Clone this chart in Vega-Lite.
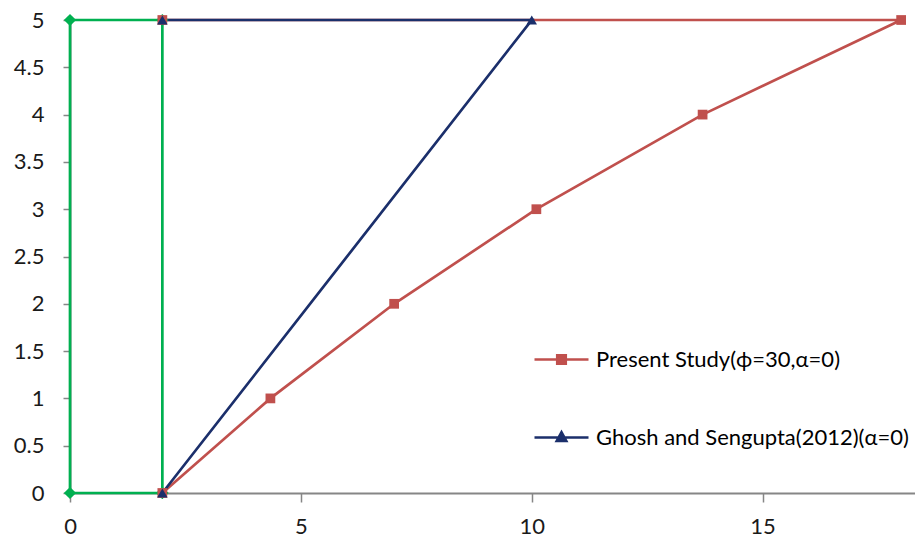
{
  "$schema": "https://vega.github.io/schema/vega-lite/v6.json",
  "width": 845,
  "height": 473,
  "autosize": {"type": "none"},
  "padding": {"left": 70, "top": 20, "right": 0, "bottom": 49},
  "background": "white",
  "config": {
    "view": {"stroke": null},
    "font": "Lato",
    "axis": {"grid": false, "labelFont": "Lato", "labelFontSize": 22, "labelColor": "#1a1a1a", "title": null}
  },
  "data": {
    "values": [
      {"series": "Boundary", "x": 2, "y": 0, "ord": 1},
      {"series": "Boundary", "x": 0, "y": 0, "ord": 2},
      {"series": "Boundary", "x": 0, "y": 5, "ord": 3},
      {"series": "Boundary", "x": 2, "y": 5, "ord": 4},
      {"series": "Boundary", "x": 2, "y": 0, "ord": 5},
      {"series": "Present Study(ϕ=30,α=0)", "x": 2, "y": 5, "ord": 1},
      {"series": "Present Study(ϕ=30,α=0)", "x": 18, "y": 5, "ord": 2},
      {"series": "Present Study(ϕ=30,α=0)", "x": 13.7, "y": 4, "ord": 3},
      {"series": "Present Study(ϕ=30,α=0)", "x": 10.1, "y": 3, "ord": 4},
      {"series": "Present Study(ϕ=30,α=0)", "x": 7.02, "y": 2, "ord": 5},
      {"series": "Present Study(ϕ=30,α=0)", "x": 4.34, "y": 1, "ord": 6},
      {"series": "Present Study(ϕ=30,α=0)", "x": 2, "y": 0, "ord": 7},
      {"series": "Ghosh and Sengupta(2012)(α=0)", "x": 2, "y": 5, "ord": 1},
      {"series": "Ghosh and Sengupta(2012)(α=0)", "x": 10, "y": 5, "ord": 2},
      {"series": "Ghosh and Sengupta(2012)(α=0)", "x": 2, "y": 0, "ord": 3}
    ]
  },
  "encoding": {
    "x": {
      "field": "x", "type": "quantitative",
      "scale": {"domain": [0, 18.3], "nice": false, "zero": false},
      "axis": {"values": [0, 5, 10, 15], "domainColor": "#868686", "domainWidth": 2, "tickColor": "#868686", "tickWidth": 1.5, "tickSize": 9, "labelPadding": 14, "labelFlush": false}
    },
    "y": {
      "field": "y", "type": "quantitative",
      "scale": {"domain": [0, 5], "nice": false},
      "axis": {"values": [0, 0.5, 1, 1.5, 2, 2.5, 3, 3.5, 4, 4.5, 5], "format": ".1~f", "domainColor": "#868686", "domainWidth": 2, "tickColor": "#868686", "tickWidth": 1.5, "tickSize": 7, "labelPadding": 19}
    },
    "color": {
      "field": "series", "type": "nominal",
      "scale": {
        "domain": ["Present Study(ϕ=30,α=0)", "Ghosh and Sengupta(2012)(α=0)", "Boundary"],
        "range": ["#C0504D", "#1B2F6B", "#00B050"]
      },
      "legend": {
        "values": ["Present Study(ϕ=30,α=0)", "Ghosh and Sengupta(2012)(α=0)"],
        "title": null,
        "orient": "none",
        "legendX": 463,
        "legendY": 311,
        "labelFont": "Lato",
        "labelFontSize": 22,
        "labelColor": "#000000",
        "labelOffset": 6,
        "rowPadding": 38,
        "symbolSize": 2916,
        "symbolStrokeWidth": 2.5,
        "labelLimit": 400,
        "encode": {
          "symbols": {
            "update": {
              "shape": {"signal": "datum.value === 'Present Study(ϕ=30,α=0)' ? 'M-1,0H1M-0.16,-0.16H0.16V0.16H-0.16Z' : 'M-1,0H1M0,-0.2L0.18,0.13H-0.18Z'"},
              "fill": {"signal": "scale('color', datum.value)"},
              "stroke": {"signal": "scale('color', datum.value)"},
              "strokeWidth": {"value": 2.5},
              "size": {"value": 2916},
              "opacity": {"value": 1}
            }
          }
        }
      }
    }
  },
  "layer": [
    {
      "mark": {"type": "line", "strokeWidth": 2.7},
      "encoding": {"order": {"field": "ord", "type": "quantitative"}}
    },
    {
      "transform": [{"filter": "datum.series === 'Boundary'"}],
      "mark": {"type": "point", "filled": true, "opacity": 1, "size": 150, "shape": "diamond"}
    },
    {
      "transform": [{"filter": "datum.series === 'Present Study(ϕ=30,α=0)'"}],
      "mark": {"type": "point", "filled": true, "opacity": 1, "size": 95, "shape": "square"}
    },
    {
      "transform": [{"filter": "datum.series === 'Ghosh and Sengupta(2012)(α=0)'"}],
      "mark": {"type": "point", "filled": true, "opacity": 1, "size": 110, "shape": "triangle-up"}
    }
  ]
}
